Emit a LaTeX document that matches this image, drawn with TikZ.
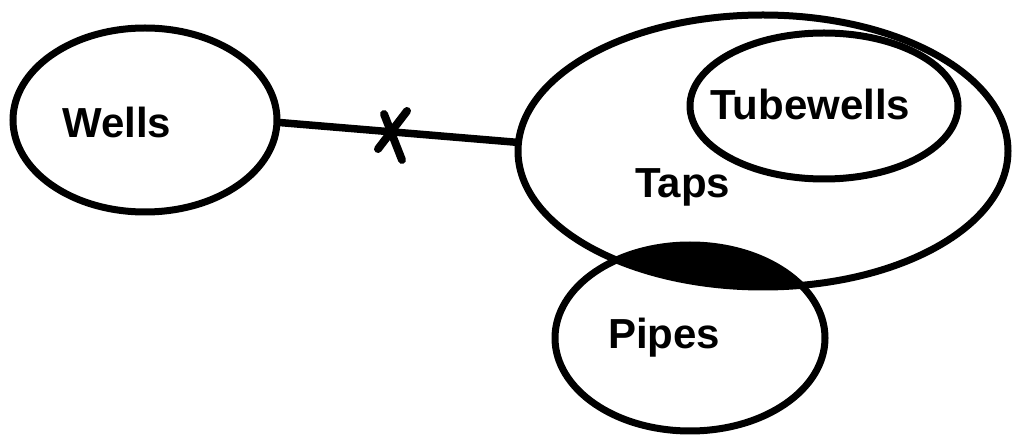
\documentclass[tikz,border=0pt]{standalone}
\usepackage{fontspec}
\setmainfont{Liberation Sans}
\usetikzlibrary{shapes.geometric}
\begin{document}
\begin{tikzpicture}[x=1pt,y=-1pt,
  setel/.style={ellipse,draw=black,line width=7pt,inner sep=0pt,outer sep=0pt},
  lbl/.style={anchor=base west,inner sep=0pt,font=\fontsize{42}{50}\selectfont\bfseries},
  conn/.style={line width=7.5pt},
  crossmark/.style={line width=8pt,line cap=round}]
\useasboundingbox (0,0) rectangle (1013,438);
\fill[white] (0,0) rectangle (1013,438);
% filled overlap of Taps and Pipes
\begin{scope}
  \clip (763,151) ellipse [x radius=245, y radius=136];
  \fill[black] (690,338) ellipse [x radius=135, y radius=93];
\end{scope}
% sets
\node[setel,minimum width=264pt,minimum height=184pt] (wells) at (145,120) {};
\node[setel,minimum width=490pt,minimum height=272pt] (taps) at (763,151) {};
\node[setel,minimum width=268pt,minimum height=146pt] (tubewells) at (824,106) {};
\node[setel,minimum width=270pt,minimum height=186pt] (pipes) at (690,338) {};
% labels
\node[lbl] (wellsl) at (62,138) {Wells};
\node[lbl] (tubel) at (710,120) {Tubewells};
\node[lbl] (tapsl) at (635,198) {Taps};
\node[lbl] (pipesl) at (608,349) {Pipes};
% connector with cross
\draw[conn] (wells.-1) -- (taps.178);
\coordinate (xa1) at (407,111);
\coordinate (xa2) at (378,149);
\coordinate (xb1) at (384,114);
\coordinate (xb2) at (402,160);
\draw[crossmark] (xa1) -- (xa2);
\draw[crossmark] (xb1) -- (xb2);
\end{tikzpicture}
\end{document}
